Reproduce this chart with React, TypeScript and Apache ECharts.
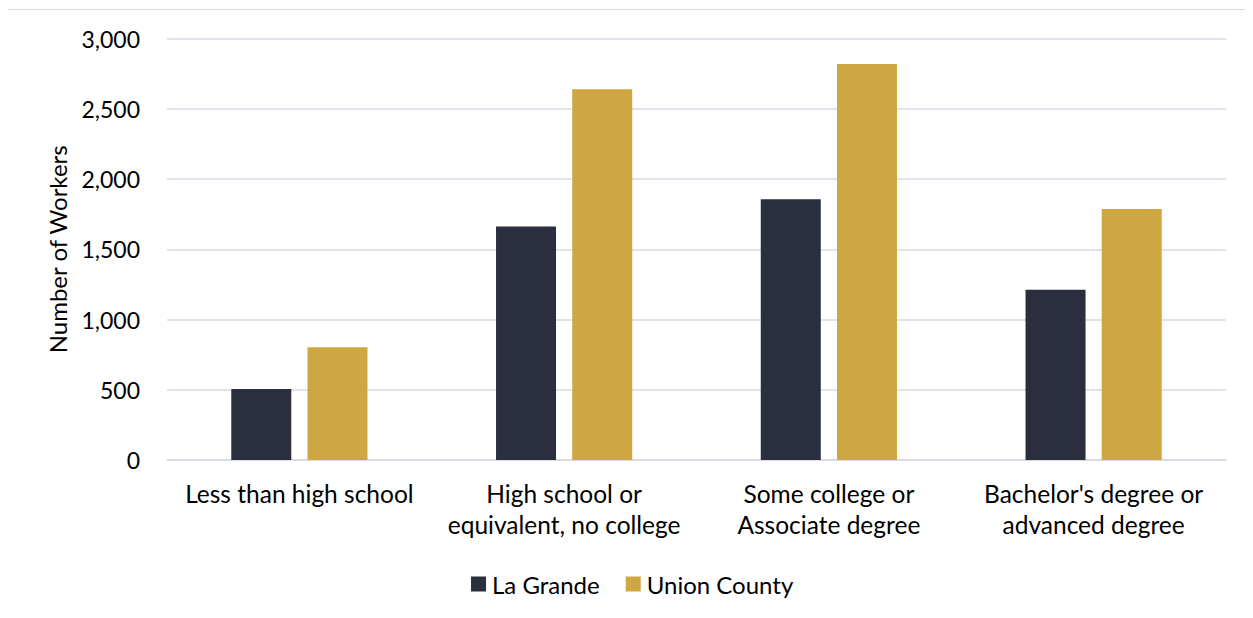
import React, { useEffect, useRef } from "react";
import * as echarts from "echarts";

const categories = [
  "Less than high school",
  "High school or\nequivalent, no college",
  "Some college or\nAssociate degree",
  "Bachelor's degree or\nadvanced degree",
];
const laGrande = [505, 1662, 1856, 1213];
const unionCounty = [802, 2640, 2820, 1788];
const seriesNames = ["La Grande", "Union County"];
const yTicks = { min: 0, max: 3000, interval: 500 };

const FONT = "Lato";

export default function App() {
  const ref = useRef<HTMLDivElement>(null);
  useEffect(() => {
    if (!ref.current) return;
    const chart = echarts.init(ref.current, undefined, { renderer: "svg" });
    chart.setOption({
      animation: false,
      backgroundColor: "#ffffff",
      textStyle: { fontFamily: FONT, color: "#000000" },
      grid: { left: 159, right: 27, top: 28.7, bottom: 149, containLabel: false },
      legend: {
        data: seriesNames,
        left: 458,
        top: 557,
        itemWidth: 15,
        itemHeight: 15,
        itemGap: 26,
        icon: "rect",
        textStyle: { fontFamily: FONT, fontSize: 24, color: "#000000", padding: [0, 0, 0, 1] },
      },
      xAxis: {
        type: "category",
        data: categories,
        axisLine: { show: true, lineStyle: { color: "#d9d9e3", width: 1.5 } },
        axisTick: { show: false },
        axisLabel: {
          fontFamily: FONT,
          fontSize: 24.5,
          color: "#000000",
          margin: 18,
          lineHeight: 31,
          interval: 0,
        },
      },
      yAxis: {
        type: "value",
        min: yTicks.min,
        max: yTicks.max,
        interval: yTicks.interval,
        name: "Number of Workers",
        nameLocation: "middle",
        nameGap: 98,
        nameTextStyle: { fontFamily: FONT, fontSize: 24, color: "#000000" },
        axisLine: { show: false },
        axisTick: { show: false },
        splitLine: { lineStyle: { color: "#d9d9e3", width: 1.5 } },
        axisLabel: {
          fontFamily: FONT,
          fontSize: 23,
          color: "#000000",
          margin: 27,
          formatter: (v: number) => v.toLocaleString("en-US"),
        },
      },
      series: [
        {
          name: seriesNames[0],
          type: "bar",
          data: laGrande,
          barWidth: 60,
          barGap: "27%",
          itemStyle: { color: "#2a2e3f" },
        },
        {
          name: seriesNames[1],
          type: "bar",
          data: unionCounty,
          barWidth: 60,
          itemStyle: { color: "#cea642" },
        },
      ],
    });
    return () => chart.dispose();
  }, []);
  return (
    <div
      style={{
        marginLeft: -1,
        marginTop: 1,
        width: 1246,
        height: 600,
        borderLeft: "1px solid #d9d9e3",
        borderTop: "1px solid #d9d9e3",
        boxSizing: "border-box",
      }}
    >
      <div ref={ref} style={{ width: 1245, height: 599 }} />
    </div>
  );
}
